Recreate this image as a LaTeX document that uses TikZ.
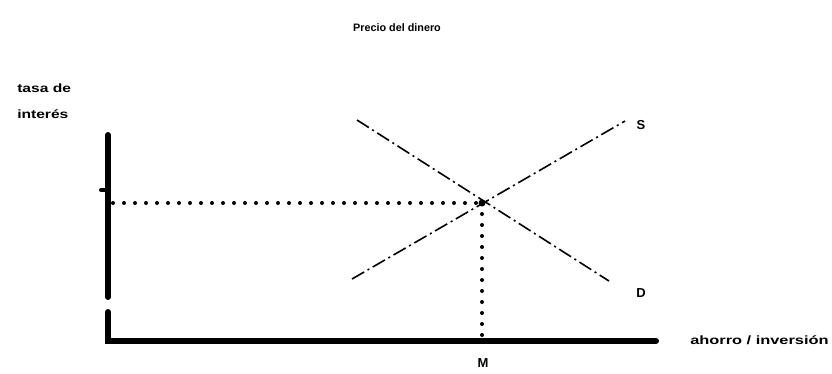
\documentclass[tikz,border=0pt]{standalone}
\usepackage{fontspec}
\setmainfont{Liberation Sans}
\begin{document}
\begin{tikzpicture}[x=1pt,y=-1pt,
  lbl/.style={font=\bfseries\fontsize{12}{14}\selectfont, inner sep=0pt},
  wide/.style={lbl, xscale=1.3},
  axisline/.style={line width=6pt, line cap=round},
  guide/.style={line width=4pt, line cap=round, dash pattern=on 0pt off 11pt},
  curve/.style={line width=1.6pt, dash pattern=on 14pt off 4pt on 2pt off 4pt}]
\useasboundingbox (0,0) rectangle (832,373);
% labels
\node[lbl, font=\bfseries\fontsize{10.8}{13}\selectfont] (title) at (397,28) {Precio del dinero};
\node[wide, anchor=west] (ylab1) at (17,88) {tasa de};
\node[wide, anchor=west] (ylab2) at (17,114) {interés};
\node[wide, anchor=west, xscale=1.05] (xlab) at (690,340) {ahorro / inversión};
\node[lbl, font=\bfseries\fontsize{13}{15}\selectfont] (Slab) at (641,125) {S};
\node[lbl, font=\bfseries\fontsize{13}{15}\selectfont] (Dlab) at (641,293) {D};
\node[lbl, font=\bfseries\fontsize{13}{15}\selectfont] (Mlab) at (483,363) {M};
% coordinates
\coordinate (ytop) at (108,135);
\coordinate (ygap1) at (108,297);
\coordinate (ygap2) at (108,312);
\coordinate (origin) at (108,341);
\coordinate (xend) at (656,341);
\coordinate (eq) at (482,203);
\coordinate (yint) at (113,203);
\coordinate (xint) at (482,338);
\coordinate (Ss) at (352,279);
\coordinate (Se) at (625,121);
\coordinate (Ds) at (357,120);
\coordinate (De) at (609,281);
\coordinate (tick) at (101,190);
% axes
\draw[axisline] (ytop) -- (ygap1);
\draw[axisline] (ygap2) -- (origin) -- (xend);
\draw[line width=4pt, line cap=round] (tick) -- ++(5,0);
% guides
\draw[guide] (yint) -- (eq);
\draw[guide] (eq) -- (xint);
\fill (eq) circle (3.5pt);
% curves
\draw[curve] (Ss) -- (Se);
\draw[curve] (Ds) -- (De);
\end{tikzpicture}
\end{document}
